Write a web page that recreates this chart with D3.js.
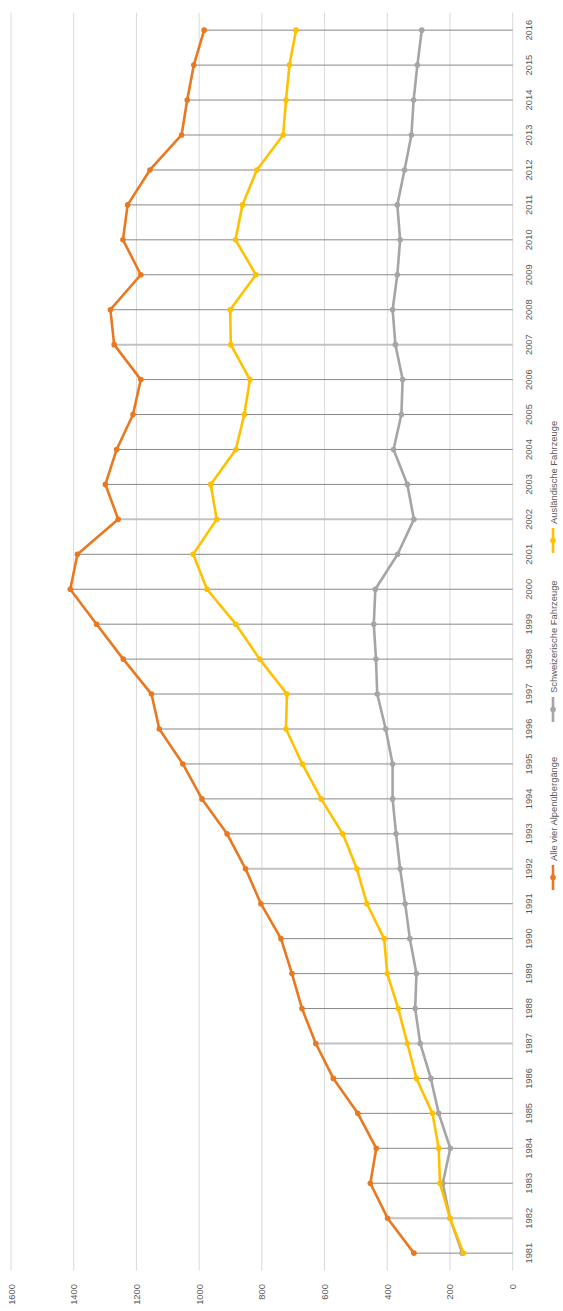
<!DOCTYPE html>
<html>
<head>
<meta charset="utf-8">
<script src="https://cdn.jsdelivr.net/npm/d3@7/dist/d3.min.js"></script>
<style>
  html, body { margin: 0; padding: 0; background: #fff; }
  svg { display: block; }
  text { font-family: "Liberation Sans", Arial, sans-serif; fill: #595959; }
</style>
</head>
<body>
<svg id="chart" width="563" height="1311"></svg>
<script>
// Alpenquerender Güterverkehr, Fahrzeuge in Tausend
const years = d3.range(1981, 2017);

const alleAlpenuebergaenge = [
  315, 399, 454, 435, 494, 572, 628, 672, 704, 739,
  803, 852, 911, 991, 1052, 1127, 1152, 1242, 1327, 1411,
  1388, 1258, 1299, 1263, 1211, 1186, 1271, 1283, 1186, 1243,
  1228, 1157, 1056, 1038, 1017, 984
];
const schweizerischeFahrzeuge = [
  161, 200, 223, 199, 236, 261, 295, 311, 307, 328,
  343, 359, 372, 383, 383, 405, 432, 436, 443, 438,
  367, 315, 336, 380, 355, 351, 374, 383, 368, 359,
  368, 345, 323, 316, 304, 290
];
const auslaendischeFahrzeuge = [
  157, 200, 232, 236, 256, 307, 336, 365, 400, 410,
  465, 497, 542, 611, 671, 723, 720, 807, 883, 975,
  1019, 944, 963, 883, 856, 838, 899, 901, 819, 884,
  862, 816, 732, 723, 712, 691
];
const valueTicks = [0, 200, 400, 600, 800, 1000, 1200, 1400, 1600];

const seriesNames = ["Alle vier Alpenübergänge", "Schweizerische Fahrzeuge", "Ausländische Fahrzeuge"];
const seriesColors = ["#E9781F", "#A5A5A5", "#FFC000"];
const seriesValues = [alleAlpenuebergaenge, schweizerischeFahrzeuge, auslaendischeFahrzeuge];

const W = 563, H = 1311;
const svg = d3.select("#chart");

// The chart is laid out as a regular horizontal chart (length H, depth W)
// and turned a quarter turn counter-clockwise onto the page.
const g = svg.append("g").attr("transform", `translate(0,${H}) rotate(-90)`);

const x = d3.scaleBand().domain(years).range([40.4, 1298.3]);
const y = d3.scaleLinear().domain([0, 1600]).range([512.7, 11]);
const cx = yr => x(yr) + x.bandwidth() / 2;

// value gridlines
g.append("g").selectAll("line").data(valueTicks).join("line")
  .attr("x1", x.range()[0]).attr("x2", x.range()[1])
  .attr("y1", d => y(d)).attr("y2", d => y(d))
  .attr("stroke", "#d9d9d9").attr("stroke-width", 1);

// value labels
g.append("g").selectAll("text").data(valueTicks).join("text")
  .attr("x", 27).attr("y", d => y(d))
  .attr("text-anchor", "end").attr("dominant-baseline", "central")
  .attr("font-size", "9.4px")
  .text(d => d);

// drop lines from the highest point of each year down to zero
const maxPerYear = years.map((yr, i) => d3.max(seriesValues, s => s[i]));
g.append("g").selectAll("line").data(years).join("line")
  .attr("x1", d => cx(d)).attr("x2", d => cx(d))
  .attr("y1", y(0)).attr("y2", (d, i) => y(maxPerYear[i]))
  .attr("stroke", (d, i) => i % 5 === 1 ? "#c2c2c2" : "#888888")
  .attr("stroke-width", (d, i) => i % 5 === 1 ? 2 : 1);

// year labels
g.append("g").selectAll("text").data(years).join("text")
  .attr("x", d => cx(d)).attr("y", 528)
  .attr("text-anchor", "middle").attr("dominant-baseline", "central")
  .attr("font-size", "9.4px")
  .text(d => d);

// series lines and markers
const line = d3.line().x((d, i) => cx(years[i])).y(d => y(d));
seriesValues.forEach((vals, k) => {
  const sg = g.append("g");
  sg.append("path").datum(vals)
    .attr("d", line)
    .attr("fill", "none")
    .attr("stroke", seriesColors[k])
    .attr("stroke-width", 2.6)
    .attr("stroke-linejoin", "round");
  sg.selectAll("circle").data(vals).join("circle")
    .attr("cx", (d, i) => cx(years[i])).attr("cy", d => y(d))
    .attr("r", 2.8)
    .attr("fill", seriesColors[k]);
});

// legend
const legendX = [421, 589, 758];
const legend = g.append("g");
seriesNames.forEach((name, k) => {
  const lx = legendX[k], ly = 553;
  legend.append("line")
    .attr("x1", lx).attr("x2", lx + 25).attr("y1", ly).attr("y2", ly)
    .attr("stroke", seriesColors[k]).attr("stroke-width", 2.6);
  legend.append("circle")
    .attr("cx", lx + 12.5).attr("cy", ly).attr("r", 2.8)
    .attr("fill", seriesColors[k]);
  legend.append("text")
    .attr("x", lx + 29).attr("y", ly)
    .attr("dominant-baseline", "central")
    .attr("font-size", "9.4px")
    .text(name);
});
</script>
</body>
</html>
